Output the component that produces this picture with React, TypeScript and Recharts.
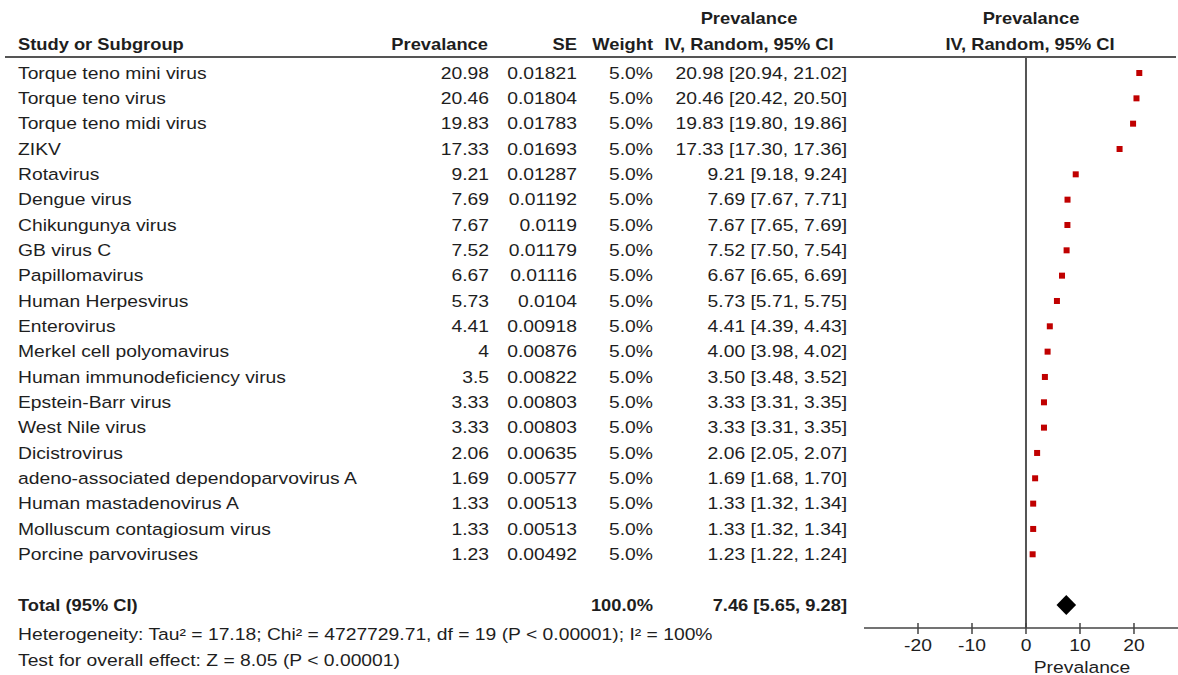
import React from "react";
import { ReferenceLine, Scatter, ScatterChart, XAxis, YAxis } from "recharts";

const studyNames = [
  "Torque teno mini virus",
  "Torque teno virus",
  "Torque teno midi virus",
  "ZIKV",
  "Rotavirus",
  "Dengue virus",
  "Chikungunya virus",
  "GB virus C",
  "Papillomavirus",
  "Human Herpesvirus",
  "Enterovirus",
  "Merkel cell polyomavirus",
  "Human immunodeficiency virus",
  "Epstein-Barr virus",
  "West Nile virus",
  "Dicistrovirus",
  "adeno-associated dependoparvovirus A",
  "Human mastadenovirus A",
  "Molluscum contagiosum virus",
  "Porcine parvoviruses",
];
const prevalence = [
  20.98, 20.46, 19.83, 17.33, 9.21, 7.69, 7.67, 7.52, 6.67, 5.73, 4.41, 4, 3.5,
  3.33, 3.33, 2.06, 1.69, 1.33, 1.33, 1.23,
];
const seValues = [
  "0.01821", "0.01804", "0.01783", "0.01693", "0.01287", "0.01192", "0.0119",
  "0.01179", "0.01116", "0.0104", "0.00918", "0.00876", "0.00822", "0.00803",
  "0.00803", "0.00635", "0.00577", "0.00513", "0.00513", "0.00492",
];
const weights = [
  5.0, 5.0, 5.0, 5.0, 5.0, 5.0, 5.0, 5.0, 5.0, 5.0, 5.0, 5.0, 5.0, 5.0, 5.0,
  5.0, 5.0, 5.0, 5.0, 5.0,
];
const ciLow = [
  20.94, 20.42, 19.8, 17.3, 9.18, 7.67, 7.65, 7.5, 6.65, 5.71, 4.39, 3.98, 3.48,
  3.31, 3.31, 2.05, 1.68, 1.32, 1.32, 1.22,
];
const ciHigh = [
  21.02, 20.5, 19.86, 17.36, 9.24, 7.71, 7.69, 7.54, 6.69, 5.75, 4.43, 4.02,
  3.52, 3.35, 3.35, 2.07, 1.7, 1.34, 1.34, 1.24,
];
const total = { prev: 7.46, lo: 5.65, hi: 9.28, weight: 100.0 };
const TOTAL_ROW = studyNames.length + 1;
const xTicks = [-20, -10, 0, 10, 20];

const heterogeneityText =
  "Heterogeneity: Tau² = 17.18; Chi² = 4727729.71, df = 19 (P < 0.00001); I² = 100%";
const overallText = "Test for overall effect: Z = 8.05 (P < 0.00001)";

const W = 1178;
const H = 675;
const Y_AXIS_W = 864;
const X_MIN = -30;
const X_MAX = 28.15;
const PX_PER_UNIT = (W - Y_AXIS_W) / (X_MAX - X_MIN);
const FONT = "'Liberation Sans', Arial, sans-serif";
const INK = "#1e1e1e";

const T = ({ x, y, anchor = "start", bold = false, children }: any) => (
  <text
    transform={`translate(${x} ${y}) scale(${bold ? 1.11 : 1.17} 1)`}
    textAnchor={anchor}
    dy="0.35em"
    fontSize={16.5}
    fontWeight={bold ? 700 : 400}
    fontFamily={FONT}
    fill={INK}
  >
    {children}
  </text>
);

const studyData = studyNames.map((name, i) => ({
  row: i,
  name,
  prev: prevalence[i],
  se: seValues[i],
  weight: weights[i],
  lo: ciLow[i],
  hi: ciHigh[i],
}));
const totalData = [{ row: TOTAL_ROW, ...total }];
const rowTicks = [...studyData.map((d) => d.row), TOTAL_ROW];

// whole table row drawn as the y-axis tick
const RowTick = ({ y, payload }: any) => {
  if (payload.value === TOTAL_ROW) {
    return (
      <g>
        <T x={18} y={y} bold>Total (95% CI)</T>
        <T x={653} y={y} anchor="end" bold>{total.weight.toFixed(1)}%</T>
        <T x={847} y={y} anchor="end" bold>
          {`${total.prev.toFixed(2)} [${total.lo.toFixed(2)}, ${total.hi.toFixed(2)}]`}
        </T>
      </g>
    );
  }
  const d = studyData[payload.value];
  if (!d) return null;
  return (
    <g>
      <T x={18} y={y}>{d.name}</T>
      <T x={489} y={y} anchor="end">{String(d.prev)}</T>
      <T x={577} y={y} anchor="end">{d.se}</T>
      <T x={653} y={y} anchor="end">{d.weight.toFixed(1)}%</T>
      <T x={847} y={y} anchor="end">
        {`${d.prev.toFixed(2)} [${d.lo.toFixed(2)}, ${d.hi.toFixed(2)}]`}
      </T>
    </g>
  );
};

const XTick = ({ x, y, payload }: any) => (
  <g>
    <line x1={x} x2={x} y1={y - 5} y2={y + 6} stroke="#444" strokeWidth={1.5} />
    <T x={x} y={y + 17} anchor="middle">{String(payload.value)}</T>
    {payload.value === 10 && (
      <T x={x + 2} y={y + 39} anchor="middle">Prevalance</T>
    )}
  </g>
);

const Square = ({ cx, cy }: any) => (
  <rect x={cx - 3} y={cy - 3} width={6} height={6} fill="#C00000" />
);

const Diamond = ({ cx, cy, payload }: any) => {
  const l = cx - (payload.prev - payload.lo) * PX_PER_UNIT;
  const r = cx + (payload.hi - payload.prev) * PX_PER_UNIT;
  return (
    <polygon
      points={`${l},${cy} ${cx},${cy - 10} ${r},${cy} ${cx},${cy + 10}`}
      fill="#000"
    />
  );
};

export default function App() {
  return (
    <div
      style={{
        position: "absolute",
        left: 0,
        top: 0,
        width: W,
        height: H,
        background: "#fff",
      }}
    >
      <ScatterChart
        width={W}
        height={H}
        margin={{ top: 57, right: 0, bottom: 0, left: 0 }}
      >
        <XAxis
          type="number"
          dataKey="prev"
          domain={[X_MIN, X_MAX]}
          allowDataOverflow
          ticks={xTicks}
          interval={0}
          height={47}
          tickSize={0}
          tickMargin={0}
          tickLine={false}
          axisLine={{ stroke: "#444", strokeWidth: 1.5 }}
          tick={<XTick />}
        />
        <YAxis
          type="number"
          dataKey="row"
          domain={[-0.632, 21.91]}
          allowDataOverflow
          reversed
          ticks={rowTicks}
          interval={0}
          width={Y_AXIS_W}
          tickSize={0}
          tickMargin={0}
          axisLine={false}
          tickLine={false}
          tick={<RowTick />}
        />
        <ReferenceLine x={0} stroke="#555" strokeWidth={2} />
        <Scatter
          data={studyData}
          shape={<Square />}
          isAnimationActive={false}
        />
        <Scatter
          data={totalData}
          shape={<Diamond />}
          isAnimationActive={false}
        />
      </ScatterChart>
      <svg
        width={W}
        height={H}
        style={{ position: "absolute", left: 0, top: 0, pointerEvents: "none" }}
      >
        <T x={749} y={18} anchor="middle" bold>Prevalance</T>
        <T x={1031} y={18} anchor="middle" bold>Prevalance</T>
        <T x={18} y={44} bold>Study or Subgroup</T>
        <T x={488} y={44} anchor="end" bold>Prevalance</T>
        <T x={577} y={44} anchor="end" bold>SE</T>
        <T x={653} y={44} anchor="end" bold>Weight</T>
        <T x={749} y={44} anchor="middle" bold>IV, Random, 95% CI</T>
        <T x={1030} y={44} anchor="middle" bold>IV, Random, 95% CI</T>
        <line x1={5} x2={1176} y1={57} y2={57} stroke="#555" strokeWidth={2} />
        <T x={18} y={634}>{heterogeneityText}</T>
        <T x={18} y={660}>{overallText}</T>
      </svg>
    </div>
  );
}
